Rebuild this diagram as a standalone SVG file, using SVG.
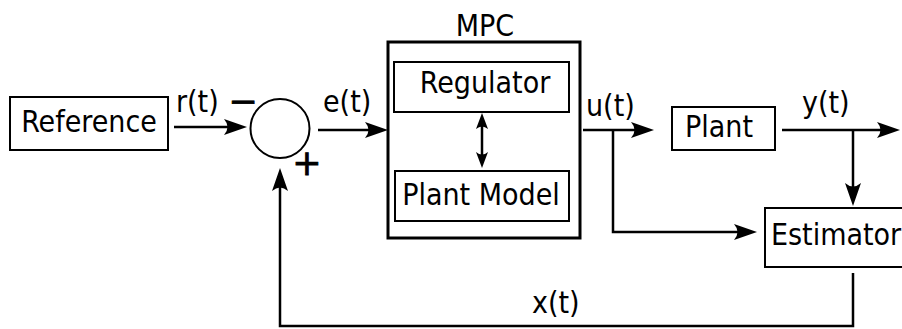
<svg xmlns="http://www.w3.org/2000/svg" width="902" height="329" viewBox="0 0 902 329">
<style>
text{font-family:"DejaVu Sans Condensed","DejaVu Sans","Liberation Sans",sans-serif;font-stretch:condensed;font-size:30px;fill:#000}
.box{fill:#fff;stroke:#000;stroke-width:2}
.outer{fill:#fff;stroke:#000;stroke-width:3}
.wire{fill:none;stroke:#000;stroke-width:2.5}
.mid{text-anchor:middle}
.sign{font-family:"DejaVu Sans",sans-serif;font-stretch:normal;font-size:35px;stroke:#000;stroke-width:0.8}
</style>
<defs>
<marker id="ah" viewBox="-25 -10 27 20" refX="-8" refY="0" markerWidth="27" markerHeight="20" markerUnits="userSpaceOnUse" orient="auto-start-reverse">
<path d="M0,0 L-23,-8 Q-16,0 -23,8 Z" fill="#000"/>
</marker>
<marker id="ahs" viewBox="-17 -7 18 14" refX="-6" refY="0" markerWidth="18" markerHeight="14" markerUnits="userSpaceOnUse" orient="auto-start-reverse">
<path d="M0,0 L-16,-6 Q-11,0 -16,6 Z" fill="#000"/>
</marker>
</defs>
<g id="reference">
<rect class="box" x="10" y="97" width="158" height="53"/>
<text class="mid" x="89" y="132">Reference</text>
</g>
<g id="sum">
<circle cx="280" cy="128.5" r="29.5" fill="#fff" stroke="#000" stroke-width="2"/>
<text class="mid sign" x="243" y="113">−</text>
<text class="mid sign" x="307" y="175">+</text>
</g>
<g id="mpc">
<rect class="outer" x="388" y="42" width="192" height="196"/>
<text class="mid" x="485" y="36">MPC</text>
<g id="regulator">
<rect class="box" x="394" y="62" width="175" height="50"/>
<text class="mid" x="485" y="93">Regulator</text>
</g>
<g id="plant-model">
<rect class="box" x="395" y="171" width="174" height="50"/>
<text class="mid" x="481" y="205">Plant Model</text>
</g>
</g>
<g id="plant">
<rect class="box" x="672" y="107" width="103" height="43"/>
<text class="mid" x="719" y="137">Plant</text>
</g>
<g id="estimator">
<rect class="box" x="765" y="208" width="150" height="59"/>
<text x="771" y="245">Estimator</text>
</g>
<g id="connectors">
<path class="wire" d="M174,127 H239" marker-end="url(#ah)"/>
<path class="wire" d="M318,130 H380" marker-end="url(#ah)"/>
<path class="wire" d="M583,130 H646" marker-end="url(#ah)"/>
<path class="wire" d="M613,130 V232 H749" marker-end="url(#ah)"/>
<path class="wire" d="M782,130 H892" marker-end="url(#ah)"/>
<path class="wire" d="M853,130 V198" marker-end="url(#ah)"/>
<path class="wire" d="M853,273 V326 H280 V176" marker-end="url(#ah)"/>
<path class="wire" stroke-width="2" d="M482,119 V162" marker-start="url(#ahs)" marker-end="url(#ahs)"/>
<text x="176" y="112">r(t)</text>
<text x="323" y="112">e(t)</text>
<text x="586" y="116">u(t)</text>
<text x="802" y="113">y(t)</text>
<text x="532" y="313">x(t)</text>
</g>
</svg>
